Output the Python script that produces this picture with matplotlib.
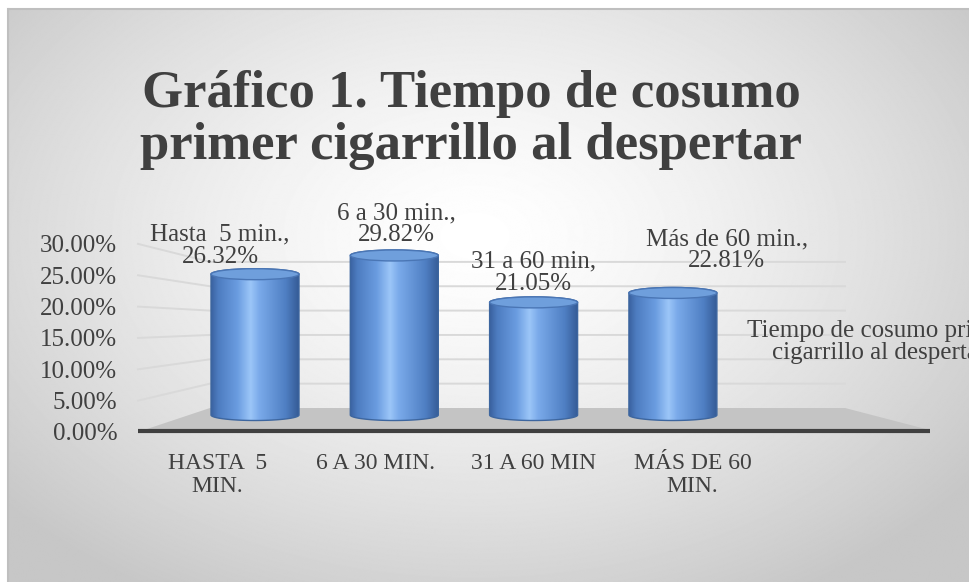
import numpy as np
import matplotlib
matplotlib.use("Agg")
import matplotlib.pyplot as plt
from matplotlib.path import Path
from matplotlib.patches import PathPatch, Ellipse, Polygon
from matplotlib.colors import LinearSegmentedColormap

# data
categories = ["HASTA  5\nMIN.", "6 A 30 MIN.", "31 A 60 MIN", "MÁS DE 60\nMIN."]
label_names = ["Hasta  5 min.,", "6 a 30 min.,", "31 a 60 min,", "Más de 60 min.,"]
values = [26.32, 29.82, 21.05, 22.81]
yticks = [0, 5, 10, 15, 20, 25, 30]
title = "Gráfico 1. Tiempo de cosumo\nprimer cigarrillo al despertar"
series_name = "Tiempo de cosumo primer\ncigarrillo al despertar"

W, H = 969, 582
fig = plt.figure(figsize=(W / 100, H / 100), dpi=100)

# background with radial gradient (pixel coordinates)
bg = fig.add_axes([0, 0, 1, 1])
bg.set_xlim(0, W)
bg.set_ylim(H, 0)
bg.axis("off")
yy, xx = np.mgrid[0:H, 0:W]
r = np.sqrt(((xx - 470) / 620.0) ** 2 + ((yy - 230) / 420.0) ** 2)
shade = np.clip(1.0 - 0.22 * r ** 1.4, 0.78, 1.0)
bg.imshow(shade, cmap="gray", vmin=0, vmax=1, extent=(9, W, H, 9), aspect="auto")
bg.plot([9, W], [8.5, 8.5], color="#bfbfbf", lw=1.5)
bg.plot([8.5, 8.5], [9, H], color="#bfbfbf", lw=1.5)

# main axes, front plane: x in category slots, y in percent
ax = fig.add_axes([138 / W, (H - 432) / H, 792 / W, 202 / H])
PX = 6.27
ax.set_xlim(-0.5, 4.5)
ax.set_ylim(0, 202 / PX)
ax.patch.set_alpha(0)
for s in ax.spines.values():
    s.set_visible(False)

def back_y(v):
    return (24 + 4.87 * v) / PX

def mid_y(v):
    return (17 + 5.35 * v) / PX

def mid_x(i):
    return -0.5 + (117 + 139.3 * i) / 158.4

back_l = -0.5 + 72 / 158.4
back_r = -0.5 + 707 / 158.4

# gridlines on side and back wall
for v in yticks[1:]:
    ax.plot([-0.5, back_l, back_r], [v, back_y(v), back_y(v)],
            color="#d9d9d9", lw=1.4, zorder=1, clip_on=False)

# floor
floor = Polygon([(-0.5, 0), (back_l, back_y(0)), (back_r, back_y(0)), (4.5, 0.3)],
                closed=True, facecolor="#c4c4c4", edgecolor="none", zorder=2)
ax.add_patch(floor)
ax.plot([-0.5, 4.5], [0.2, 0.2], color="#404040", lw=3, zorder=3,
        solid_capstyle="butt", clip_on=False)

# cylinders
body_cmap = LinearSegmentedColormap.from_list(
    "cyl", [(0.0, "#3a62a0"), (0.08, "#4d7cc0"), (0.3, "#6a9ce0"),
            (0.45, "#9cc6f8"), (0.55, "#7aaaea"), (0.85, "#4f7fc3"),
            (1.0, "#355b96")])
a = 44 / 158.4
b = 5.5 / PX
t = np.linspace(0, np.pi, 60)
grad = np.linspace(0, 1, 256).reshape(1, -1)
for i, v in enumerate(values):
    cx = mid_x(i)
    y0, y1 = mid_y(0), mid_y(v)
    bottom = np.column_stack([cx - a * np.cos(t), y0 - b * np.sin(t)])
    top = np.column_stack([cx + a * np.cos(t), y1 + b * np.sin(t)])
    verts = np.vstack([bottom, top, bottom[:1]])
    path = Path(verts, closed=True)
    outline = PathPatch(path, facecolor="none", edgecolor="#3d669f", lw=1.0, zorder=5)
    ax.add_patch(outline)
    im = ax.imshow(grad, cmap=body_cmap, extent=(cx - a, cx + a, y0 - b, y1 + b),
                   aspect="auto", zorder=4, interpolation="bilinear")
    im.set_clip_path(outline)
    ax.add_patch(Ellipse((cx, y1), 2 * a, 2 * b, facecolor="#6f9fdc",
                         edgecolor="#4a76b5", lw=1.0, zorder=6))

# data labels
label_dx = [-35, 2, 0, 54]
label_dy = [1, 4, 2, 15]
for i, v in enumerate(values):
    ax.annotate(f"{label_names[i]}\n{v:.2f}%", (mid_x(i), mid_y(v) + b),
                xytext=(label_dx[i] * 0.72, label_dy[i] * 0.72), textcoords="offset points",
                ha="center", va="bottom", fontsize=18, color="#404040",
                family="Liberation Serif", linespacing=1.0, annotation_clip=False)

# axes ticks
ax.set_yticks(yticks)
ax.set_yticklabels([f"{v:.2f}%" for v in yticks])
ax.set_xticks(range(len(categories)))
ax.set_xticklabels(categories, linespacing=1.15)
ax.tick_params(axis="y", length=0, pad=15, labelsize=18, labelcolor="#404040")
ax.tick_params(axis="x", length=0, pad=15, labelsize=17, labelcolor="#404040")
for lab in ax.get_xticklabels() + ax.get_yticklabels():
    lab.set_family("Liberation Serif")

# series name (runs past the right edge, as in the original)
fig.text(879 / W, 1 - 342 / H, series_name, ha="center", va="center", fontsize=18,
         color="#404040", family="Liberation Serif", linespacing=1.0)

# title
fig.text(471 / W, 1 - 120 / H, title, ha="center", va="center", fontsize=38,
         fontweight="bold", color="#404040", family="Liberation Serif", linespacing=1.1)

fig.savefig("out.png", dpi=100)
